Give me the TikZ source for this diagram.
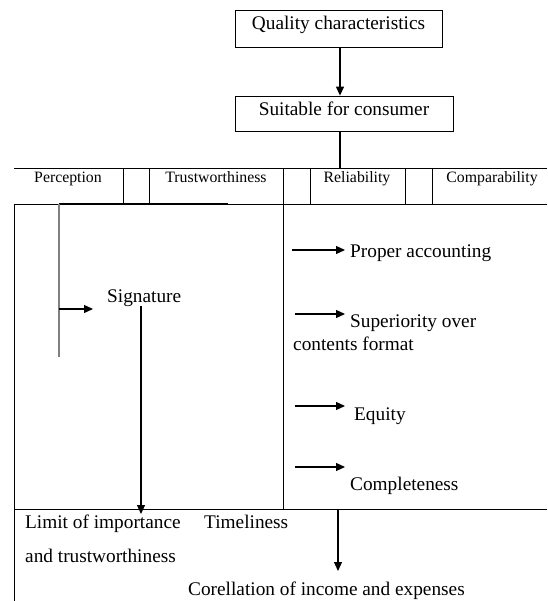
\documentclass[tikz,border=0pt]{standalone}
\usepackage{fontspec}
\setmainfont{Liberation Serif}
\usetikzlibrary{arrows.meta}
\begin{document}
\begin{tikzpicture}[x=1pt,y=-1pt,
  txt/.style={inner sep=0pt,anchor=base west,font=\fontsize{19.3}{22}\selectfont},
  hdr/.style={inner sep=0pt,anchor=base,font=\fontsize{15.8}{18}\selectfont},
  boxn/.style={draw,line width=0.8pt,inner sep=0pt,font=\fontsize{19.3}{22}\selectfont},
  rule/.style={line width=0.8pt},
  conn/.style={line width=1.1pt},
  arr/.style={line width=1.2pt,-{Triangle[length=9pt,width=8pt]}},
  grayl/.style={line width=1.2pt,draw=gray}]
\useasboundingbox (0,0) rectangle (547,601);
% top boxes
\node[boxn,minimum width=207pt,minimum height=37pt] (q) at (338.5,28.5) {};
\node[inner sep=0pt,anchor=base,font=\fontsize{19.3}{22}\selectfont] (qt) at (338.5,29.5) {Quality characteristics};
\node[boxn,minimum width=218pt,minimum height=35pt] (s) at (344,113.5) {};
\node[inner sep=0pt,anchor=base,font=\fontsize{19.3}{22}\selectfont] (st) at (344,115.5) {Suitable for consumer};
\draw[arr] (q.south -| 340,0) -- (s.north -| 340,0);
\coordinate (ttop) at (340,168);
\draw[conn] (s.south -| 340,0) -- (ttop);
% header row
\draw[rule] (14,168) -- (547,168);
\draw[rule] (14,204) -- (547,204);
\foreach \xx in {123,149,283,310,405,432} \draw[rule] (\xx,168) -- (\xx,204);
\node[hdr] (perc) at (68,183) {Perception};
\node[hdr] (trust) at (216,183) {Trustworthiness};
\node[hdr] (rel) at (357,183) {Reliability};
\node[hdr] (comp) at (492,183) {Comparability};
% body lines
\draw[rule] (14,204) -- (14,601);
\draw[rule] (283,204) -- (283,509);
\draw[rule] (14,509) -- (547,509);
% left bracket
\draw[line width=1.2pt] (59,204) -- (228,204);
\draw[grayl] (59,204) -- (59,357);
\coordinate (br) at (59,309);
\node[txt] (sig) at (107,302) {Signature};
\draw[arr] (br) -- (93,309);
\node[txt] (lim) at (25,528) {Limit of importance};
\node[txt] (lim2) at (25,562) {and trustworthiness};
\node[txt] (time) at (204,528) {Timeliness};
\draw[arr] (sig.south -| 141,0) -- (141,514);
% right column
\node[txt] (pa) at (350,257) {Proper accounting};
\node[txt] (sup) at (350,327) {Superiority over};
\node[txt] (sup2) at (293,350) {contents format};
\node[txt] (eq) at (354,420) {Equity};
\node[txt] (cm) at (350,490) {Completeness};
\draw[arr] (292,250) -- (345,250);
\draw[arr] (295,314) -- (345,314);
\draw[arr] (295,406) -- (345,406);
\draw[arr] (295,467) -- (345,467);
% bottom
\node[txt] (corr) at (188,595) {Corellation of income and expenses};
\coordinate (bt) at (338,509);
\draw[arr] (bt) -- (338,571);
\end{tikzpicture}
\end{document}
